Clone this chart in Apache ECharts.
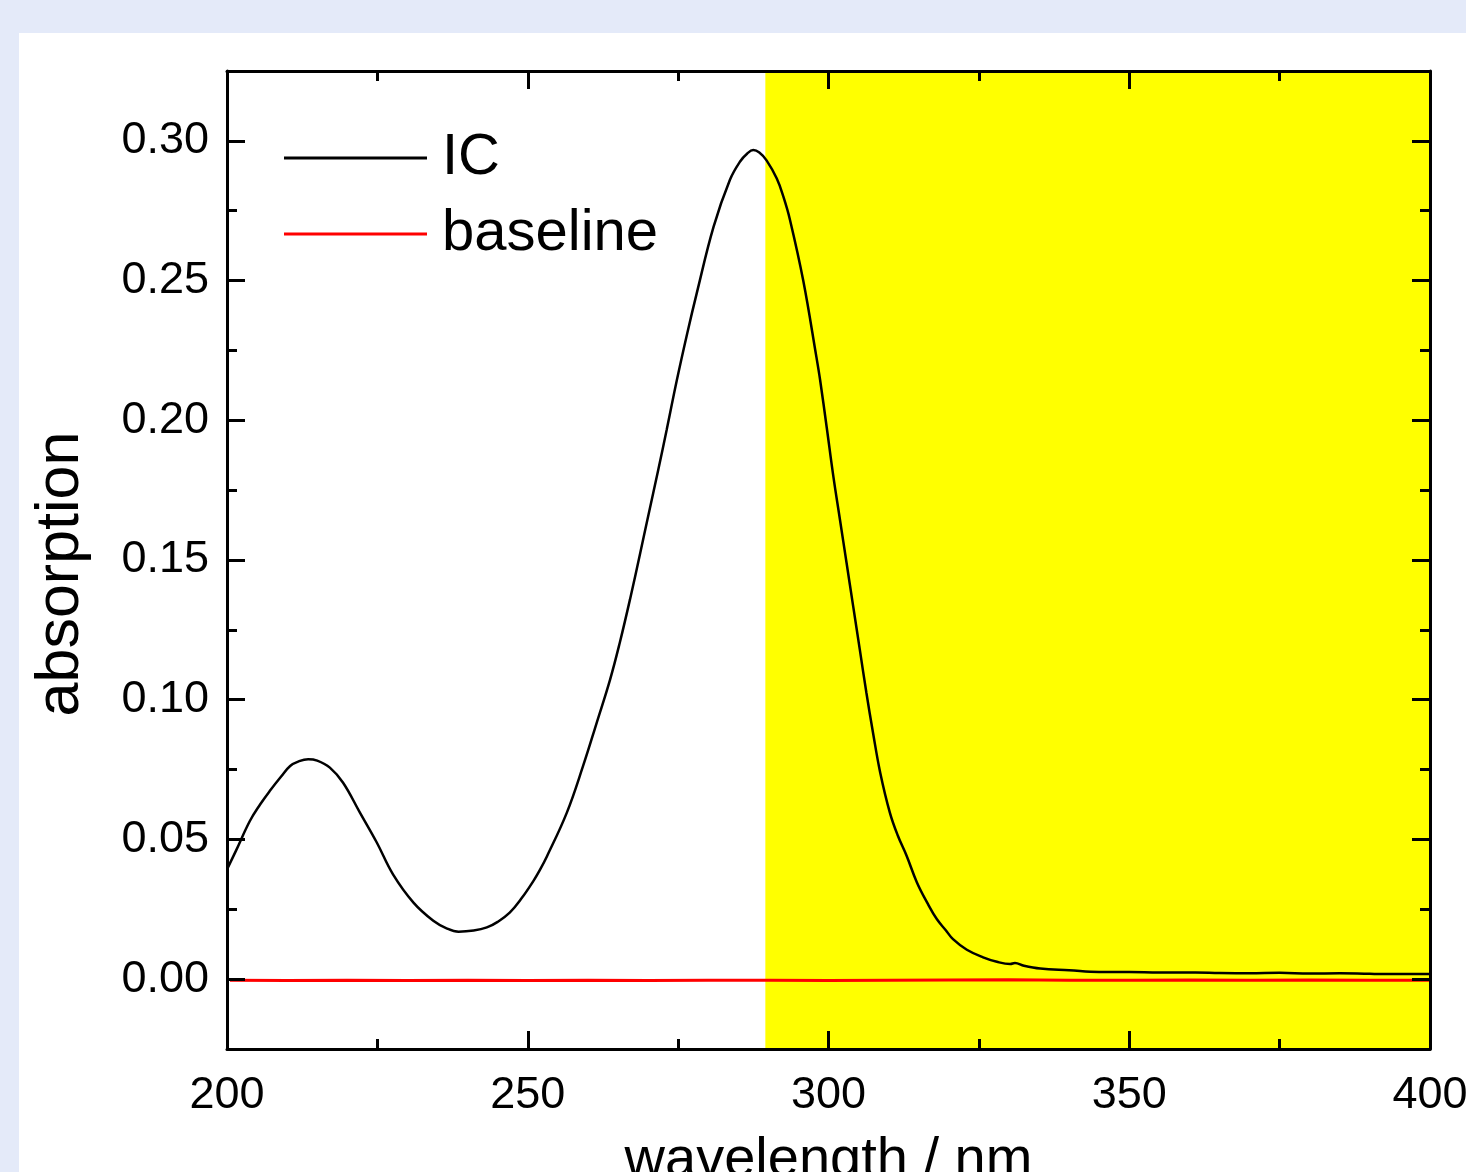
<!DOCTYPE html>
<html>
<head>
<meta charset="utf-8">
<script src="https://cdn.jsdelivr.net/npm/echarts@6/dist/echarts.min.js"></script>
<style>
  html, body { margin: 0; padding: 0; width: 1466px; height: 1172px; overflow: hidden; background: #e4eaf9; }
  #chart { position: absolute; left: 19px; top: 33px; width: 1447px; height: 1139px; background: #ffffff; }
</style>
</head>
<body>
<div id="chart"></div>
<script>
// ---- data ----
const icWavelength = [200.0,201.5,203.8,205.5,207.1,209.0,210.5,212.0,213.5,215.0,217.1,219.3,222.1,224.9,227.6,231.0,234.3,236.5,238.5,241.0,243.2,245.0,247.0,249.0,250.9,252.0,253.2,256.5,259.2,261.5,263.7,265.3,267.0,268.7,270.0,271.7,273.1,274.8,276.5,278.1,280.9,283.6,285.3,286.5,287.5,288.5,289.7,291.4,292.5,293.6,295.8,298.0,298.6,299.7,300.8,301.9,303.0,304.1,305.2,306.3,307.4,308.6,310.2,311.5,313.0,314.7,316.5,318.0,319.5,320.7,323.0,325.7,328.0,330.2,331.0,332.5,335.2,340.0,345.0,350.0,355.0,361.0,365.0,370.0,375.0,380.0,385.0,390.0,395.0,401.0];
const icAbsorption = [0.0393,0.0460,0.0566,0.0625,0.0673,0.0725,0.0763,0.0780,0.0787,0.0782,0.0757,0.0703,0.0596,0.0489,0.0375,0.0274,0.0209,0.0182,0.0170,0.0174,0.0185,0.0205,0.0238,0.0290,0.0350,0.0390,0.0440,0.0596,0.0763,0.0920,0.1073,0.1204,0.1359,0.1525,0.1655,0.1823,0.1966,0.2145,0.2310,0.2455,0.2693,0.2860,0.2926,0.2955,0.2967,0.2958,0.2930,0.2865,0.2800,0.2717,0.2500,0.2225,0.2145,0.1975,0.1800,0.1645,0.1490,0.1335,0.1180,0.1025,0.0882,0.0739,0.0596,0.0515,0.0441,0.0346,0.0270,0.0215,0.0175,0.0143,0.0105,0.0078,0.0062,0.0054,0.0058,0.0048,0.0038,0.0032,0.0026,0.0026,0.0024,0.0024,0.0022,0.0021,0.0023,0.0020,0.0021,0.0019,0.0018,0.0018];
const baseWavelength = [200.5,210,220,230,240,250,260,270,280,290,300,310,320,330,340,350,360,370,380,390,401.0];
const baseAbsorption = [-0.0004,-0.0005,-0.0004,-0.0005,-0.0004,-0.0005,-0.0004,-0.0005,-0.0004,-0.0004,-0.0005,-0.0004,-0.0003,-0.0002,-0.0004,-0.0004,-0.0003,-0.0004,-0.0003,-0.0004,-0.0004];
const shadeRange = [289.5, 400];
const xRange = [200, 400];
const yRange = [-0.025, 0.325];
const yMajorTicks = [0.00, 0.05, 0.10, 0.15, 0.20, 0.25, 0.30];
const yMinorTicks = [0.025, 0.075, 0.125, 0.175, 0.225, 0.275, 0.325];
const seriesNames = ['IC', 'baseline'];

const FONT = "'Liberation Sans', Arial, sans-serif";
const icData = icWavelength.map((w, i) => [w, icAbsorption[i]]);
const baseData = baseWavelength.map((w, i) => [w, baseAbsorption[i]]);

const axisLine = { show: true, onZero: false, lineStyle: { color: '#000', width: 3 } };
function xAx(pos, labels) {
  return {
    type: 'value', position: pos, min: xRange[0], max: xRange[1], interval: 50, z: 5,
    axisLine: axisLine,
    axisTick: { show: true, inside: true, length: 18, lineStyle: { color: '#000', width: 3 } },
    minorTick: { show: true, splitNumber: 2, length: 10, lineStyle: { color: '#000', width: 3 } },
    axisLabel: { show: labels, color: '#000', fontSize: 45, fontFamily: FONT, margin: 24 },
    splitLine: { show: false }, minorSplitLine: { show: false },
    name: labels ? 'wavelength / nm' : '', nameLocation: 'middle', nameGap: 84,
    nameTextStyle: { color: '#000', fontSize: 56, fontFamily: FONT }
  };
}
function yAx(pos, major, labels) {
  return {
    type: 'value', position: pos, min: yRange[0], max: yRange[1], z: 5,
    axisLine: major ? axisLine : { show: false, onZero: false },
    axisTick: { show: true, inside: true, length: major ? 18 : 10, customValues: major ? yMajorTicks : yMinorTicks,
                lineStyle: { color: '#000', width: 3 } },
    axisLabel: { show: labels, customValues: yMajorTicks, color: '#000', fontSize: 45, fontFamily: FONT, margin: 18,
                 formatter: v => v.toFixed(2) },
    splitLine: { show: false },
    name: labels ? 'absorption' : '', nameLocation: 'middle', nameGap: 135,
    nameTextStyle: { color: '#000', fontSize: 61, fontFamily: FONT, padding: [0, 28, 0, 0] }
  };
}

const chart = echarts.init(document.getElementById('chart'), null, { renderer: 'canvas' });
chart.setOption({
  animation: false,
  backgroundColor: '#ffffff',
  grid: { left: 208, top: 38, width: 1203, height: 978, containLabel: false, outerBoundsMode: 'none' },
  legend: {
    data: seriesNames.map(n => ({ name: n, icon: 'rect' })), orient: 'vertical', left: 260, top: 90,
    itemWidth: 143, itemHeight: 3, itemGap: 16,
    textStyle: { color: '#000', fontSize: 58, fontFamily: FONT, lineHeight: 60, padding: [0, 0, 0, 10] }
  },
  xAxis: [xAx('bottom', true), xAx('top', false)],
  yAxis: [yAx('left', true, true), yAx('left', false, false), yAx('right', true, false), yAx('right', false, false)],
  series: [
    {
      name: 'shade', type: 'line', data: [], z: 1, silent: true,
      markArea: { silent: true, itemStyle: { color: '#ffff00', opacity: 1 },
                  data: [[{ xAxis: shadeRange[0] }, { xAxis: shadeRange[1] }]] }
    },
    {
      name: 'IC', type: 'line', data: icData, symbol: 'none', smooth: 0.4, clip: false, z: 3,
      lineStyle: { color: '#000', width: 2.5 }, itemStyle: { color: '#000' }
    },
    {
      name: 'baseline', type: 'line', data: baseData, symbol: 'none', clip: false, z: 3,
      lineStyle: { color: '#ff0000', width: 3 }, itemStyle: { color: '#ff0000' }
    }
  ]
});
</script>
</body>
</html>
